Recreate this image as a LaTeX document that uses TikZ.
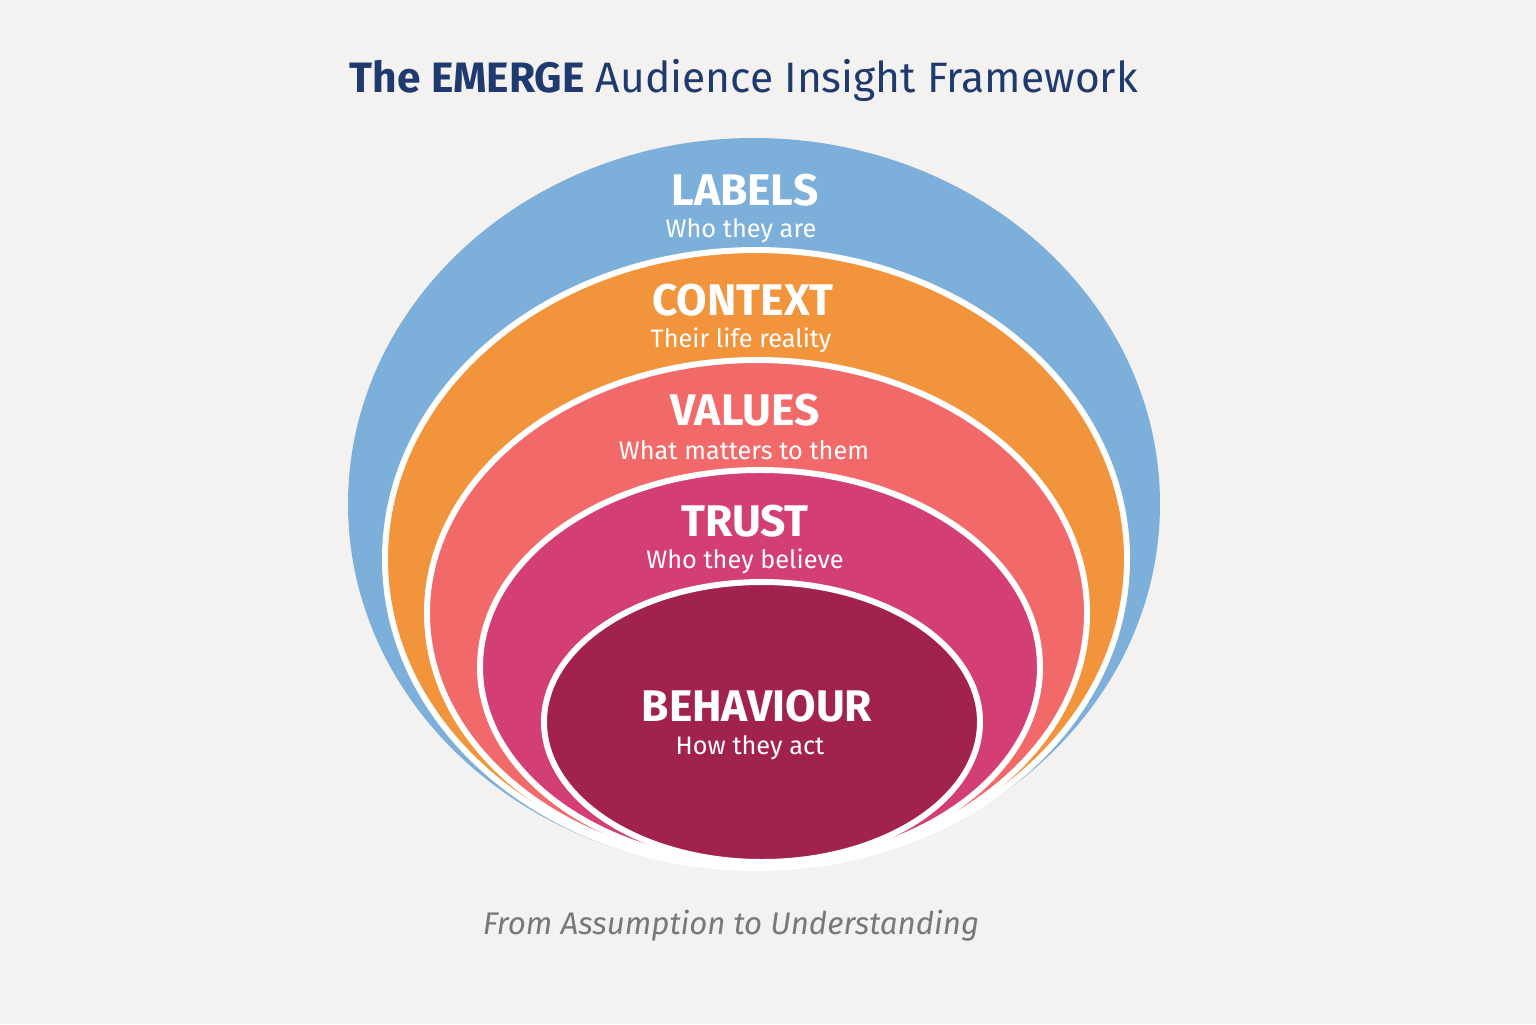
\documentclass[tikz,border=0pt]{standalone}
\usepackage{fontspec}
\setmainfont{Fira Sans}
\usetikzlibrary{positioning}
\definecolor{paper}{HTML}{F4F2F0}
\definecolor{navy}{HTML}{1F3A6E}
\definecolor{sky}{HTML}{7DAFDB}
\definecolor{amber}{HTML}{F1943C}
\definecolor{coral}{HTML}{F2696A}
\definecolor{rose}{HTML}{D33F74}
\definecolor{wine}{HTML}{A2224F}
\definecolor{slate}{HTML}{787878}

\begin{document}
\begin{tikzpicture}[
  ring/.style={draw=white,line width=1.7pt},
  head/.style={text=white,font=\bfseries\fontsize{12.6}{14}\selectfont,inner sep=0pt},
  sub/.style={text=white,font=\fontsize{7.2}{9}\selectfont,inner sep=0pt}]
% ---------------- canvas
\fill[paper] (0,0) rectangle (15.36,10.24);
\useasboundingbox (0,0) rectangle (15.36,10.24);

% ---------------- the nested layers, outside in
\fill[sky]                 (7.54,5.20) ellipse (4.06 and 3.66);
\filldraw[ring,fill=amber] (7.56,4.65) ellipse (3.71 and 3.09);
\filldraw[ring,fill=coral] (7.57,4.11) ellipse (3.30 and 2.53);
\filldraw[ring,fill=rose]  (7.60,3.57) ellipse (2.80 and 1.97);
\filldraw[ring,fill=wine]  (7.62,3.02) ellipse (2.18 and 1.40);

% ---------------- layer texts
\node[head] (labels) at (7.45,8.34) {LABELS};
\node[sub]  (labelsSub) at (7.41,7.93) {Who they are};
\node[head] (context) at (7.43,7.24) {CONTEXT};
\node[sub]  (contextSub) at (7.41,6.84) {Their life reality};
\node[head] (values) at (7.45,6.14) {VALUES};
\node[sub]  (valuesSub) at (7.44,5.74) {What matters to them};
\node[head] (trust) at (7.45,5.03) {TRUST};
\node[sub]  (trustSub) at (7.45,4.63) {Who they believe};
\node[head] (behaviour) at (7.57,3.18) {BEHAVIOUR};
\node[sub]  (behaviourSub) at (7.50,2.76) {How they act};

% ---------------- title and closing line
\node[text=navy,font=\fontsize{12.1}{14}\selectfont] (title) at (7.44,9.44)
  {\textbf{The EMERGE} Audience Insight Framework};
\node[text=slate,font=\itshape\fontsize{8.9}{11}\selectfont] (motto) at (7.31,0.98)
  {From Assumption to Understanding};
\end{tikzpicture}
\end{document}
